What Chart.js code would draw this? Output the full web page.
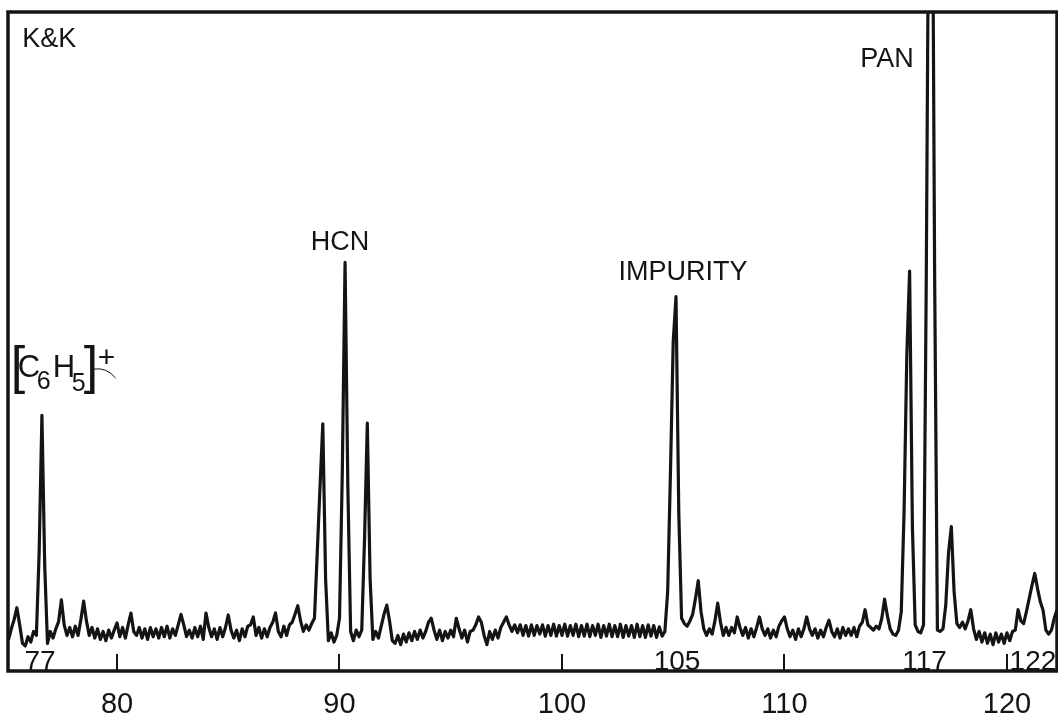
<!DOCTYPE html>
<html>
<head>
<meta charset="utf-8">
<title>K&amp;K mass spectrum</title>
<script src="https://cdn.jsdelivr.net/npm/chart.js@4.4.0/dist/chart.umd.min.js"></script>
<style>
  html, body { margin: 0; padding: 0; background: #fff; }
  #wrap { width: 1058px; height: 724px; position: relative; }
</style>
</head>
<body>
<div id="wrap"><canvas id="canvas"></canvas></div>
<script>
// recorder trace, every 1/8 mass unit starting at 75.0
const scanStart = 75.0
const scanStep = 0.125
const signal = [
  5.8, 4.8, 6.4, 7.8, 9.6, 7.0, 4.2, 3.8,     // 75
  5.2, 4.4, 6.0, 5.4, 18, 38.8, 16, 4.2,      // 76
  6.0, 5.0, 6.4, 7.5, 10.8, 7.0, 5.4, 6.6,    // 77
  5.2, 6.8, 5.4, 7.8, 10.6, 7.6, 5.4, 6.6,    // 78
  5.0, 6.4, 4.8, 6.0, 4.6, 6.2, 5.0, 6.2,     // 79
  7.3, 5.2, 6.6, 5.0, 7.0, 8.8, 6.0, 5.4,     // 80
  6.6, 5.0, 6.4, 4.8, 6.6, 5.2, 6.4, 5.0,     // 81
  6.6, 5.2, 6.8, 5.0, 6.4, 5.4, 7.0, 8.6,     // 82
  7.0, 5.2, 6.2, 5.0, 6.6, 5.2, 6.8, 4.8,     // 83
  8.8, 6.6, 5.2, 6.4, 4.8, 6.6, 5.2, 6.6,     // 84
  8.5, 6.2, 5.0, 6.2, 4.6, 6.4, 5.2, 6.8,     // 85
  7.0, 8.2, 5.4, 6.6, 5.0, 6.4, 5.2, 6.6,     // 86
  7.4, 8.8, 6.0, 5.2, 6.8, 5.4, 7.0, 7.4,     // 87
  8.6, 9.9, 7.6, 6.0, 7.0, 6.2, 7.2, 8.0,     // 88
  18, 28, 37.5, 14, 4.6, 5.8, 4.4, 5.4,       // 89
  8.0, 30, 62, 28, 6.0, 4.6, 6.2, 5.2,        // 90  HCN
  6.2, 20, 37.6, 14, 4.8, 6.0, 5.0, 6.8,      // 91
  8.6, 10, 7.6, 4.6, 4.2, 5.4, 4.0, 5.6,      // 92
  4.4, 5.8, 4.6, 6.0, 4.8, 6.2, 5.0, 6.0,     // 93
  7.4, 8.0, 6.2, 4.8, 6.2, 4.6, 6.0, 5.0,     // 94
  6.2, 5.2, 8.0, 6.4, 5.0, 6.2, 4.4, 6.0,     // 95
  6.2, 7.0, 8.2, 7.4, 5.4, 4.0, 6.0, 4.8,     // 96
  6.2, 5.0, 6.6, 7.4, 8.2, 7.0, 6.0, 7.0,     // 97
  5.8, 7.0, 5.4, 6.9, 5.3, 7.0, 5.4, 6.9,     // 98
  5.6, 7.0, 5.3, 6.9, 5.4, 7.1, 5.3, 6.9,     // 99
  5.4, 7.1, 5.3, 6.9, 5.4, 7.1, 5.2, 6.9,     // 100
  5.3, 7.1, 5.2, 6.9, 5.4, 7.1, 5.1, 6.9,     // 101
  5.3, 7.1, 5.2, 6.9, 5.2, 7.1, 5.1, 6.9,     // 102
  5.3, 6.9, 5.1, 7.1, 5.2, 6.9, 5.1, 7.0,     // 103
  5.3, 6.9, 5.1, 6.7, 5.3, 6.0, 12, 30,       // 104
  50, 56.8, 24, 8.0, 7.2, 6.8, 7.6, 8.6,      // 105 impurity
  11, 13.7, 9.0, 6.4, 5.4, 6.4, 5.6, 7.6,     // 106
  10.3, 7.4, 5.4, 6.6, 5.4, 6.6, 5.8, 8.2,    // 107
  6.6, 5.4, 6.6, 5.0, 6.4, 5.2, 6.6, 8.2,     // 108
  6.4, 5.4, 6.4, 5.0, 6.2, 5.2, 6.8, 7.6,     // 109
  8.2, 6.4, 5.2, 6.2, 4.8, 6.4, 5.2, 6.4,     // 110
  8.2, 6.4, 5.4, 6.4, 5.0, 6.2, 5.2, 6.6,     // 111
  7.7, 6.0, 5.2, 6.4, 5.0, 6.6, 5.4, 6.4,     // 112
  5.4, 6.6, 5.2, 6.8, 7.4, 9.3, 7.0, 6.6,     // 113
  6.2, 6.8, 6.4, 8.0, 10.9, 8.4, 6.4, 5.6,    // 114
  5.4, 6.2, 9.0, 24, 48, 60.7, 22, 7.0,       // 115
  6.0, 5.8, 7.0, 60, 130, 140, 60, 6.2,       // 116 PAN, off scale
  6.0, 6.4, 10, 18, 21.9, 12, 7.2, 6.6,       // 117
  7.4, 6.4, 7.6, 9.3, 6.4, 4.8, 6.0, 4.4,     // 118
  5.8, 4.2, 5.6, 4.0, 5.8, 4.4, 5.6, 4.2,     // 119
  5.8, 4.6, 6.0, 6.2, 9.3, 7.6, 7.2, 9.0,     // 120
  11, 13, 14.8, 12.5, 10.5, 9.2, 6.2, 5.6,    // 121
  6.2, 8.0, 9.3                               // 122
]

const axisTicks = [80, 90, 100, 110, 120]
const peakTags = ['77', '105', '117', '122']
const peakTagAt = [76.54, 105.17, 116.3, 121.17]

// hand lettering on the chart (positions in axis units)
const lettering = [
  { text: 'K&K', x: 75.74, y: 94.7, align: 'left' },
  { text: 'HCN', x: 90.02, y: 63.9, align: 'center' },
  { text: 'IMPURITY', x: 105.44, y: 59.3, align: 'center' },
  { text: 'PAN', x: 114.61, y: 91.7, align: 'center' }
]
const formulaAt = { x: 75.22, y: 44.6 }

const FONT = '"Liberation Sans", Arial, sans-serif'
const INK = '#141414'

const paperMarks = {
  id: 'paperMarks',
  afterDraw(chart) {
    const ctx = chart.ctx
    const { left, top, right, bottom } = chart.chartArea
    const xs = chart.scales.x
    const ys = chart.scales.y
    ctx.save()
    ctx.strokeStyle = INK
    ctx.fillStyle = INK

    // frame
    ctx.lineWidth = 3.5
    ctx.strokeRect(left, top, right - left, bottom - top)

    // small inner ticks on the baseline
    ctx.lineWidth = 2
    axisTicks.forEach(v => {
      const px = Math.round(xs.getPixelForValue(v))
      ctx.beginPath()
      ctx.moveTo(px, bottom)
      ctx.lineTo(px, bottom - 17)
      ctx.stroke()
    })

    // mass numbers written along the baseline
    ctx.font = '28px ' + FONT
    ctx.textAlign = 'center'
    ctx.textBaseline = 'alphabetic'
    peakTags.forEach((t, i) => {
      ctx.fillText(t, xs.getPixelForValue(peakTagAt[i]), bottom - 1)
    })

    ctx.font = '27px ' + FONT
    lettering.forEach(l => {
      ctx.textAlign = l.align
      ctx.fillText(l.text, xs.getPixelForValue(l.x), ys.getPixelForValue(l.y))
    })

    // [C6H5]+
    const ox = xs.getPixelForValue(formulaAt.x)
    const oy = ys.getPixelForValue(formulaAt.y)
    ctx.textAlign = 'left'
    const part = (txt, size, dx, dy) => {
      ctx.font = size + 'px ' + FONT
      ctx.fillText(txt, ox + dx, oy + dy)
    }
    part('[', 52, 0, 6)
    part('C', 31, 7, 0)
    part('6', 25, 26, 12)
    part('H', 31, 42, 0)
    part('5', 25, 61, 14)
    part(']', 52, 73, 6)
    part('+', 30, 87, -10)
    ctx.lineWidth = 1
    ctx.beginPath()
    ctx.moveTo(ox + 83, oy - 8)
    ctx.quadraticCurveTo(ox + 96, oy - 10, ox + 105, oy + 1)
    ctx.stroke()
    ctx.restore()
  }
}

const points = signal.map((v, i) => ({ x: scanStart + i * scanStep, y: v }))

new Chart(document.getElementById('canvas'), {
  type: 'line',
  data: {
    datasets: [{
      data: points,
      borderColor: INK,
      borderWidth: 3.2,
      borderJoinStyle: 'round',
      pointRadius: 0,
      tension: 0,
      fill: false
    }]
  },
  options: {
    responsive: true,
    maintainAspectRatio: false,
    animation: false,
    layout: { padding: { left: 8, top: 12, right: 1, bottom: 0 } },
    plugins: { legend: { display: false }, tooltip: { enabled: false } },
    scales: {
      x: {
        type: 'linear',
        min: 75.1,
        max: 122.25,
        afterBuildTicks: s => { s.ticks = axisTicks.map(v => ({ value: v })) },
        afterFit: s => { s.height = 53 },
        grid: { display: false, drawTicks: false },
        border: { display: false },
        ticks: {
          padding: 17,
          maxRotation: 0,
          color: INK,
          font: { family: FONT, size: 29 }
        }
      },
      y: {
        display: false,
        min: 0,
        max: 100
      }
    }
  },
  plugins: [paperMarks]
})
</script>
</body>
</html>
